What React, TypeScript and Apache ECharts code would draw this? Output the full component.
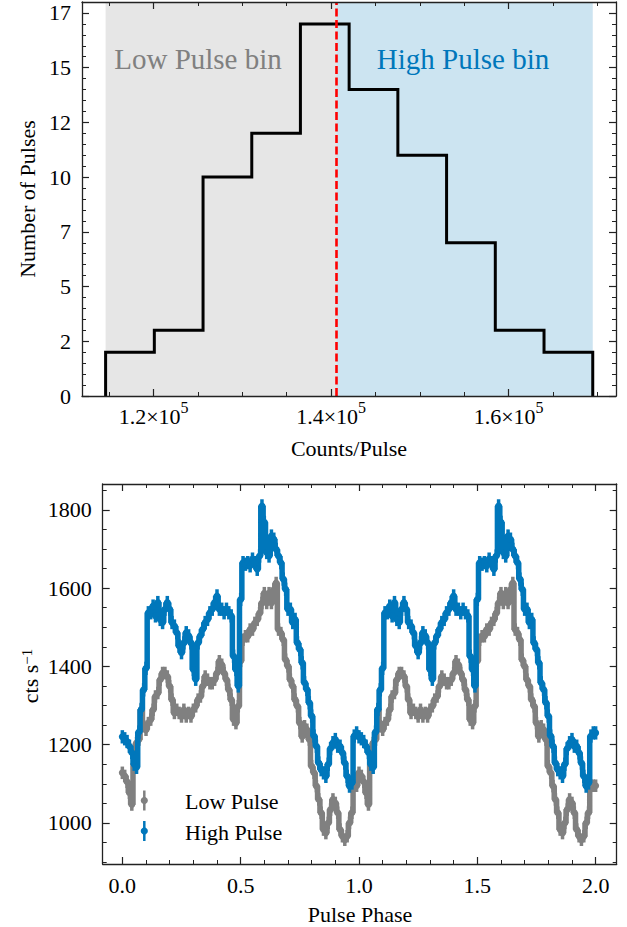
import React, { useEffect, useRef } from 'react';
import * as echarts from 'echarts';

// ---------------- data ----------------
const histEdges = [114590, 120080, 125570, 131060, 136540, 142030, 147520, 153010, 158500, 163990, 169480];
const histCounts = [2, 3, 10, 12, 17, 14, 11, 7, 3, 2];
const threshold = 140630;

// one pulse cycle, phase 0.00 .. 0.99 (step 0.01)
const highPulse = [
  1220, 1215, 1208, 1196, 1180, 1150, 1142, 1232, 1290, 1340,
  1395, 1537, 1537, 1554, 1529, 1563, 1520, 1512, 1546, 1563,
  1546, 1512, 1503, 1486, 1452, 1435, 1460, 1486, 1478, 1460,
  1392, 1367, 1460, 1478, 1495, 1512, 1520, 1537, 1546, 1563,
  1580, 1546, 1546, 1537, 1546, 1537, 1529, 1426, 1392, 1350,
  1571, 1665, 1661, 1665, 1657, 1674, 1665, 1648, 1682, 1810,
  1768, 1691, 1682, 1733, 1725, 1699, 1682, 1665, 1623, 1597,
  1546, 1546, 1512, 1520, 1460, 1443, 1409, 1358, 1341, 1307,
  1273, 1222, 1196, 1153, 1136, 1128, 1119, 1150, 1190, 1205,
  1213, 1196, 1196, 1179, 1153, 1119, 1094, 1102, 1222, 1230,
];
const lowPulse = [
  1128, 1120, 1105, 1077, 1047, 1150, 1204, 1213, 1289, 1247,
  1238, 1255, 1264, 1289, 1323, 1332, 1366, 1383, 1383, 1374,
  1349, 1315, 1281, 1289, 1281, 1272, 1289, 1272, 1281, 1272,
  1289, 1298, 1315, 1323, 1349, 1374, 1366, 1357, 1357, 1366,
  1383, 1413, 1404, 1383, 1366, 1340, 1315, 1264, 1255, 1298,
  1414, 1468, 1477, 1477, 1494, 1494, 1511, 1519, 1536, 1562,
  1587, 1562, 1587, 1562, 1596, 1613, 1494, 1485, 1468, 1417,
  1400, 1366, 1349, 1315, 1298, 1255, 1221, 1247, 1238, 1213,
  1145, 1128, 1094, 1060, 1026, 983, 974, 1000, 1034, 1060,
  1051, 1026, 983, 966, 957, 966, 1000, 1026, 1095, 1095,
];
const ERR_HIGH = 17;
const ERR_LOW = 16;
const CYCLES = 2;

const xTopMajor = [120000, 140000, 160000];
const xTopMinor = [115000, 125000, 130000, 135000, 145000, 150000, 155000, 165000, 170000];
const yTopMajor = [0, 2.5, 5, 7.5, 10, 12.5, 15, 17.5];
const phaseMajor = [0, 0.5, 1, 1.5, 2];
const rateMajor = [1000, 1200, 1400, 1600, 1800];

// ---------------- styling ----------------
const FONT = '"Liberation Serif", "Times New Roman", serif';
const AX = '#222222';
const BLUE = '#0077BB';
const GRAY = '#808080';
const FS = 22;

function range(a: number, b: number, step: number, exclude: number[]) {
  const out: number[] = [];
  for (let v = a; v <= b + 1e-9; v += step) {
    const r = Math.round(v * 1000) / 1000;
    if (!exclude.some((e) => Math.abs(e - r) < 1e-9)) out.push(r);
  }
  return out;
}

const yTopMinor = range(0.5, 17.5, 0.5, yTopMajor);
const phaseMinor = range(0.1, 2.0, 0.1, phaseMajor);
const rateMinor = range(900, 1850, 50, rateMajor);

function axisPair(gridIndex: number, position: string, min: number, max: number,
  majors: number[], minors: number[], label: any) {
  const base: any = {
    type: 'value', gridIndex, position, min, max, z: 10, silent: true,
    splitLine: { show: false },
    axisLine: { show: false, onZero: false },
    axisLabel: { show: false },
    axisTick: { show: false },
  };
  const major = {
    ...base,
    axisLine: { show: true, onZero: false, lineStyle: { color: AX, width: 1.3 } },
    axisTick: { show: true, inside: true, length: 7, customValues: majors, lineStyle: { color: AX, width: 1.2 } },
    axisLabel: label
      ? { show: true, customValues: majors, formatter: label.formatter, margin: label.margin,
          color: '#000', fontFamily: FONT, fontSize: FS, rich: label.rich }
      : { show: false },
  };
  const minor = {
    ...base,
    axisTick: { show: true, inside: true, length: 4, customValues: minors, lineStyle: { color: AX, width: 1 } },
  };
  return [major, minor];
}

function buildOption() {
  const xMin1 = 111930, xMax1 = 172100, yMax1 = 18;
  const xMin2 = -0.083, xMax2 = 2.089, yMin2 = 895, yMax2 = 1866;

  const sciRich = {
    a: { fontFamily: FONT, fontSize: FS, color: '#000', padding: [6, 0, 0, 0] },
    s: { fontFamily: FONT, fontSize: 16, color: '#000', verticalAlign: 'top' },
  };
  const xAxes = [
    ...axisPair(0, 'bottom', xMin1, xMax1, xTopMajor, xTopMinor, {
      margin: 3,
      formatter: (v: number) => `{a|${(v / 1e5).toFixed(1)}×10}{s|5}`,
      rich: sciRich,
    }),
    ...axisPair(0, 'top', xMin1, xMax1, xTopMajor, xTopMinor, null),
    ...axisPair(1, 'bottom', xMin2, xMax2, phaseMajor, phaseMinor, {
      margin: 10,
      formatter: (v: number) => v.toFixed(1),
    }),
    ...axisPair(1, 'top', xMin2, xMax2, phaseMajor, phaseMinor, null),
  ];
  const yAxes = [
    ...axisPair(0, 'left', 0, yMax1, yTopMajor, yTopMinor, {
      margin: 11,
      formatter: (v: number) => String(Math.trunc(v)),
    }),
    ...axisPair(0, 'right', 0, yMax1, yTopMajor, yTopMinor, null),
    ...axisPair(1, 'left', yMin2, yMax2, rateMajor, rateMinor, {
      margin: 11,
      formatter: (v: number) => String(v),
    }),
    ...axisPair(1, 'right', yMin2, yMax2, rateMajor, rateMinor, null),
  ];

  // histogram outline
  const histLine: number[][] = [[histEdges[0], 0]];
  histCounts.forEach((c, i) => {
    histLine.push([histEdges[i], c]);
    histLine.push([histEdges[i + 1], c]);
  });
  histLine.push([histEdges[histEdges.length - 1], 0]);

  // pulse profiles over two cycles
  const mk = (cycle: number[], err: number, withErr: boolean) => {
    const n = cycle.length;
    const out: number[][] = [];
    for (let i = 0; i < n * CYCLES; i++) {
      const v = cycle[i % n];
      out.push(withErr ? [i / n, v, err] : [i / n, v]);
    }
    const last = cycle[n - 1];
    out.push(withErr ? [CYCLES, last, err] : [CYCLES, last]);
    return out;
  };

  const errSeries = (name: string, data: number[][], color: string, z: number) => ({
    type: 'custom', name, xAxisIndex: 4, yAxisIndex: 4, z, silent: true,
    data,
    renderItem: (_p: any, api: any) => {
      const x = api.value(0), y = api.value(1), e = api.value(2);
      const a = api.coord([x, y - e]);
      const b = api.coord([x, y + e]);
      return {
        type: 'line',
        shape: { x1: a[0], y1: a[1], x2: b[0], y2: b[1] },
        style: { stroke: color, lineWidth: 3.5 },
      };
    },
  });
  const lineSeries = (name: string, data: number[][], color: string, z: number) => ({
    type: 'line', name, xAxisIndex: 4, yAxisIndex: 4, z, silent: true,
    data, step: 'middle',
    symbol: 'circle', symbolSize: 7, showSymbol: true,
    itemStyle: { color },
    lineStyle: { color, width: 5.5 },
  });

  const txt = (text: string, x: number, y: number, opts: any = {}) => ({
    type: 'text', x, y, rotation: opts.rotation || 0, z: 50, silent: true,
    style: {
      text, fill: opts.fill || '#000', fontFamily: FONT, fontSize: opts.size || FS,
      textAlign: opts.align || 'center', textVerticalAlign: 'middle', rich: opts.rich,
    },
  });

  const legendItem = (label: string, y: number, color: string) => [
    { type: 'line', z: 50, silent: true, shape: { x1: 144.3, y1: y - 10, x2: 144.3, y2: y + 10 }, style: { stroke: color, lineWidth: 2.5 } },
    { type: 'circle', z: 51, silent: true, shape: { cx: 144.3, cy: y, r: 3.6 }, style: { fill: color } },
    txt(label, 185, y + 1, { align: 'left' }),
  ];

  return {
    animation: false,
    backgroundColor: '#ffffff',
    grid: [
      { left: 82, top: 2, width: 534, height: 394, containLabel: false },
      { left: 102.7, top: 484, width: 514, height: 380, containLabel: false },
    ],
    xAxis: xAxes,
    yAxis: yAxes,
    series: [
      {
        type: 'line', name: 'regions', xAxisIndex: 0, yAxisIndex: 0, z: 1, silent: true, data: [],
        markArea: {
          silent: true,
          data: [
            [{ xAxis: histEdges[0], yAxis: 0, itemStyle: { color: 'rgba(128,128,128,0.2)' } }, { xAxis: threshold, yAxis: yMax1 }],
            [{ xAxis: threshold, yAxis: 0, itemStyle: { color: 'rgba(0,119,187,0.2)' } }, { xAxis: histEdges[histEdges.length - 1], yAxis: yMax1 }],
          ],
        },
      },
      {
        type: 'line', name: 'histogram', xAxisIndex: 0, yAxisIndex: 0, z: 3, silent: true,
        data: histLine, symbol: 'none', lineStyle: { color: '#000', width: 3, join: 'miter' },
      },
      {
        type: 'line', name: 'threshold', xAxisIndex: 0, yAxisIndex: 0, z: 5, silent: true, data: [],
        markLine: {
          silent: true, symbol: ['none', 'none'], label: { show: false },
          lineStyle: { color: '#FF0000', type: [8, 3.5], width: 2.6 },
          data: [{ xAxis: threshold }],
        },
      },
      errSeries('Low Pulse err', mk(lowPulse, ERR_LOW, true), GRAY, 2),
      lineSeries('Low Pulse', mk(lowPulse, ERR_LOW, false), GRAY, 2),
      errSeries('High Pulse err', mk(highPulse, ERR_HIGH, true), BLUE, 3),
      lineSeries('High Pulse', mk(highPulse, ERR_HIGH, false), BLUE, 3),
    ],
    graphic: [
      txt('Number of Pulses', 27, 199, { rotation: Math.PI / 2 }),
      txt('Counts/Pulse', 349, 448),
      txt('Low Pulse bin', 198, 59, { size: 29, fill: GRAY }),
      txt('High Pulse bin', 463, 59, { size: 29, fill: BLUE }),
      txt('cts s{sup|−1}', 30, 676, {
        rotation: Math.PI / 2,
        rich: { sup: { fontFamily: FONT, fontSize: 15, verticalAlign: 'top', fill: '#000' } },
      }),
      txt('Pulse Phase', 360, 914),
      ...legendItem('Low Pulse', 800.5, GRAY),
      ...legendItem('High Pulse', 831, BLUE),
    ],
  };
}

export default function App() {
  const ref = useRef<HTMLDivElement>(null);
  useEffect(() => {
    document.body.style.margin = '0';
    if (!ref.current) return;
    const chart = echarts.init(ref.current, undefined, { renderer: 'svg' });
    chart.setOption(buildOption() as any);
    return () => chart.dispose();
  }, []);
  return <div ref={ref} style={{ width: 627, height: 927 }} />;
}
